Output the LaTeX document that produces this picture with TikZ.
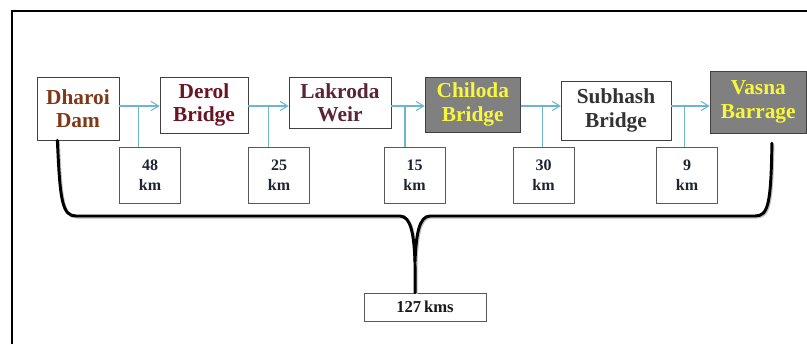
\documentclass[tikz,border=0pt]{standalone}
\usepackage{fontspec}
\setmainfont{Liberation Serif}
\usepackage{xcolor}
\usetikzlibrary{arrows.meta,calc}
\definecolor{flowblue}{HTML}{6DB6CC}
\definecolor{boxgray}{HTML}{808080}
\definecolor{siteyellow}{HTML}{F7F73C}
\definecolor{kmtext}{HTML}{1E2433}
\tikzset{
  sitebox/.style={draw=black!75,fill=white,align=center,inner sep=0pt,
    font=\bfseries\fontsize{16}{17.5}\selectfont},
  hotbox/.style={sitebox,fill=boxgray,text=siteyellow},
  kmbox/.style={draw=black!65,fill=white,align=center,inner sep=0pt,
    minimum width=45.75pt,minimum height=42pt,text=kmtext,
    font=\bfseries\fontsize{12}{15}\selectfont},
  flowarrow/.style={-{Straight Barb[length=2mm,width=2.4mm]},draw=flowblue,line width=0.8pt},
  flowline/.style={draw=flowblue,line width=0.8pt},
  bracepath/.style={line width=2.2pt,line cap=round,
    preaction={draw=black!25,line width=2.2pt,transform canvas={xshift=0.8pt,yshift=-0.8pt}}}
}

\begin{document}
\begin{tikzpicture}[x=0.75pt,y=-0.75pt]
  \useasboundingbox (0,0) rectangle (807,344);
  \draw[line width=1.6pt] (12,344) -- (12,11) -- (807,11);

  % river points
  \node[sitebox,text={rgb,255:red,126;green,58;blue,23},minimum width=61.5pt,minimum height=47.25pt]
    (dharoi) at (78,108.5) {Dharoi\\Dam};
  \node[sitebox,text={rgb,255:red,106;green,20;blue,36},minimum width=66pt,minimum height=42pt]
    (derol) at (204,105) {Derol\\Bridge};
  \node[sitebox,text={rgb,255:red,91;green,36;blue,54},minimum width=76.5pt,minimum height=38.25pt]
    (lakroda) at (340,102.5) {Lakroda\\Weir};
  \node[hotbox,minimum width=71.8pt,minimum height=41.25pt]
    (chiloda) at (472.8,104.5) {Chiloda\\Bridge};
  \node[sitebox,text=black!80,minimum width=82.3pt,minimum height=44.25pt]
    (subhash) at (616,110.5) {Subhash\\Bridge};
  \node[hotbox,minimum width=72.5pt,minimum height=46.5pt]
    (vasna) at (758.3,102) {Vasna\\Barrage};

  % distances
  \node[kmbox] (d48) at (150,175) {48\\km};
  \node[kmbox] (d25) at (279,175) {25\\km};
  \node[kmbox] (d15) at (414.5,175) {15\\km};
  \node[kmbox] (d30) at (543.5,175) {30\\km};
  \node[kmbox] (d9) at (687,175) {9\\km};
  \node[draw=black!65,fill=white,inner sep=0pt,minimum width=91.5pt,minimum height=21pt,
    text=black!90,font=\bfseries\fontsize{12.5}{15}\selectfont] (total) at (425,307) {127\,kms};

  % flow arrows
  \coordinate (flow) at (0,106);
  \draw[flowarrow] (dharoi.east |- flow) -- (derol.west |- flow);
  \draw[flowarrow] (derol.east |- flow) -- (lakroda.west |- flow);
  \draw[flowarrow] (lakroda.east |- flow) -- (chiloda.west |- flow);
  \draw[flowarrow] (chiloda.east |- flow) -- (subhash.west |- flow);
  \draw[flowarrow] (subhash.east |- flow) -- (vasna.west |- flow);
  \foreach \bx/\dist in {138.3/d48,268.7/d25,405/d15,542.3/d30,684.3/d9}{
    \coordinate (branch) at (\bx,106);
    \draw[flowline] (branch) -- (branch |- \dist.north);
  }

  % brace
  \coordinate (braceL) at ($(dharoi.south west)!0.25!(dharoi.south east)$);
  \coordinate (braceR) at ([yshift=-7.5pt]$(vasna.south west)!0.64!(vasna.south east)$);
  \coordinate (braceTip) at ($(total.north west)!0.42!(total.north east)$);
  \draw[bracepath] (braceL) .. controls (60,200) and (62,216) .. (76,216) -- (400,216)
    .. controls (411,216) and (414,235) .. (415,262) -- (braceTip);
  \draw[bracepath] (braceR) .. controls (771,205) and (768,216) .. (755,216) -- (430,216)
    .. controls (419,216) and (416,235) .. (415,262);
\end{tikzpicture}
\end{document}
